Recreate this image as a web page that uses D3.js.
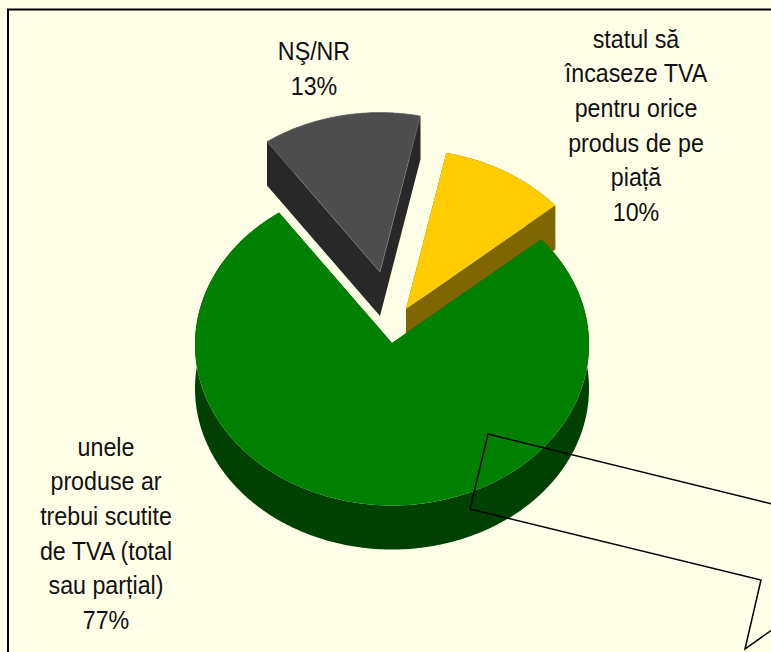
<!DOCTYPE html>
<html>
<head>
<meta charset="utf-8">
<script src="https://cdn.jsdelivr.net/npm/d3@7"></script>
<style>
html,body{margin:0;padding:0;background:#ffffe8;overflow:hidden}
svg{display:block}
text{font-family:"Liberation Sans",Arial,sans-serif;font-size:25px;fill:#111}
</style>
</head>
<body>
<svg id="chart" width="771" height="652"></svg>
<script>
// Data, clockwise from the first slice
const categories = ["NŞ/NR", "statul să încaseze TVA pentru orice produs de pe piață", "unele produse ar trebui scutite de TVA (total sau parțial)"];
const values = [13, 10.4, 76.6];
const labelLines = [
  ["NŞ/NR", "13%"],
  ["statul să", "încaseze TVA", "pentru orice", "produs de pe", "piață", "10%"],
  ["unele", "produse ar", "trebui scutite", "de TVA (total", "sau parțial)", "77%"]
];

// Styles and layout
const topColors = ["#4d4d4d", "#ffcc00", "#008000"];
const sideColors = ["#282828", "#806600", "#004000"];
const apexes = [[380, 272], [406, 309], [392, 343]];
const labelAnchors = [[314, 60], [636, 47.5], [106, 455.5]];
const lineStep = 34.7;
const textSqueeze = 0.93;
const rx = 197, ry = 161, depth = 44, rimDrop = 1.5;
const startDeg = -35;
const calloutPoints = [[776, 505], [488, 434], [470, 509], [761, 580], [745, 649], [776, 627]];

const svg = d3.select("#chart");

// Frame
svg.append("rect").attr("x", 17.5).attr("y", 19.5).attr("width", 780).attr("height", 626.5)
  .attr("fill", "none").attr("stroke", "#ffffff").attr("stroke-opacity", .7).attr("stroke-width", 1);
svg.append("rect").attr("x", 8).attr("y", 9.5).attr("width", 800).attr("height", 700)
  .attr("fill", "none").attr("stroke", "#000").attr("stroke-width", 2);

// Pie layout projected onto a flattened disc
const start = startDeg * Math.PI / 180;
const arcs = d3.pie().sort(null).startAngle(start).endAngle(start + 2 * Math.PI)(values);
const sx = d3.scaleLinear().domain([-1, 1]).range([-rx, rx]);
const sy = d3.scaleLinear().domain([-1, 1]).range([-ry, ry]);
const line = d3.line();

function rimPoints(a, apex) {
  const n = Math.max(2, Math.ceil((a.endAngle - a.startAngle) * 60));
  return d3.range(n + 1).map(i => {
    const t = a.startAngle + (a.endAngle - a.startAngle) * i / n;
    return [apex[0] + sx(Math.sin(t)), apex[1] + rimDrop + sy(-Math.cos(t))];
  });
}
const drop = pts => pts.map(p => [p[0], p[1] + depth]);
const wall = pts => line(pts.concat(drop(pts).reverse())) + "Z";

const slices = svg.append("g");
arcs.forEach((a, i) => {
  const apex = apexes[i];
  const rim = rimPoints(a, apex);
  const g = slices.append("g");
  // Outer wall, then the two cut faces
  g.append("path").attr("d", wall(rim)).attr("fill", sideColors[i]);
  g.append("path").attr("d", wall([apex, rim[0]])).attr("fill", sideColors[i]);
  g.append("path").attr("d", wall([apex, rim[rim.length - 1]])).attr("fill", sideColors[i]);
  const face = g.append("path").attr("d", line([apex].concat(rim)) + "Z").attr("fill", topColors[i]);
  if (i === 0) face.attr("stroke", "#808080").attr("stroke-width", .6);
});

// Labels
labelLines.forEach((lines, i) => {
  lines.forEach((s, k) => {
    svg.append("text").attr("text-anchor", "middle")
      .attr("transform", `translate(${labelAnchors[i][0]},${labelAnchors[i][1] + k * lineStep}) scale(${textSqueeze},1)`)
      .text(s);
  });
});

// Empty callout outline running off the frame
svg.append("path").attr("d", line(calloutPoints))
  .attr("fill", "none").attr("stroke", "#000").attr("stroke-width", 1.5);
</script>
</body>
</html>
